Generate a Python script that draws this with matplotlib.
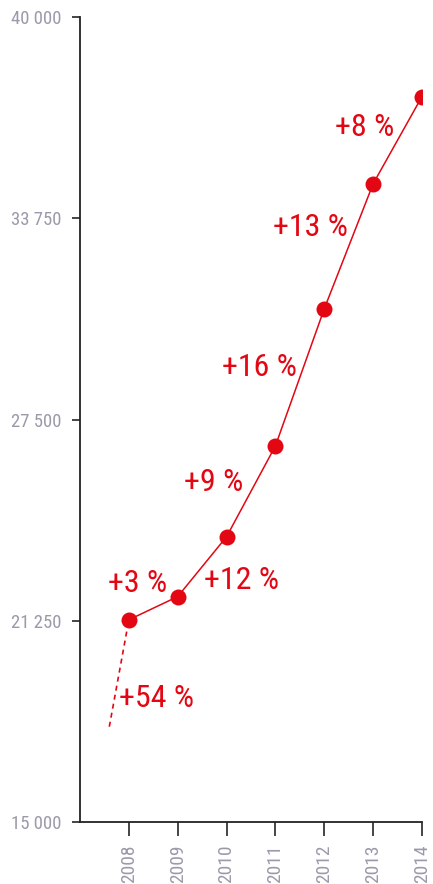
import matplotlib
matplotlib.use("Agg")
import matplotlib.pyplot as plt
from matplotlib import font_manager

# data
years = [2008, 2009, 2010, 2011, 2012, 2013, 2014]
values = [21280, 22000, 23860, 26680, 30940, 34820, 37530]
start_year = 2007.6
start_value = 17960
growth_labels = ["+54 %", "+3 %", "+9 %", "+12 %", "+16 %", "+13 %", "+8 %"]
y_ticks = [15000, 21250, 27500, 33750, 40000]

# label positions (data coords)
label_pos = [(2008.57, 18850), (2008.17, 22420), (2009.73, 25530),
             (2010.31, 22490), (2010.68, 29100), (2011.72, 33450),
             (2012.82, 36560)]

names = set(f.name for f in font_manager.fontManager.ttflist)
font = "DejaVu Sans"
for cand in ["Roboto Condensed", "Liberation Sans Narrow", "Open Sans Condensed", "Noto Sans"]:
    if cand in names:
        font = cand
        break

red = "#e30613"
grey = "#9a9aab"

fig = plt.figure(figsize=(4.33, 8.84), dpi=100)
ax = fig.add_axes([80 / 433, 62 / 884, 342 / 433, 805 / 884])

ax.plot([start_year, years[0]], [start_value, values[0]], color=red, lw=1.2,
        ls=(0, (3, 2.5)))
ax.plot(years, values, color=red, lw=1.1, marker="o", ms=11.5,
        markeredgewidth=0)

for txt, (x, y) in zip(growth_labels, label_pos):
    ax.text(x, y, txt, color=red, fontsize=23, family=font,
            ha="center", va="center")

ax.set_xlim(2007, 2014)
ax.set_ylim(15000, 40000)
ax.set_xticks(years)
ax.set_xticklabels([str(y) for y in years], rotation=90, color=grey,
                   fontsize=14, family=font)
ax.set_yticks(y_ticks)
ax.set_yticklabels([f"{v:,}".replace(",", " ") for v in y_ticks], color=grey,
                   fontsize=13.5, family=font)

for s in ["top", "right"]:
    ax.spines[s].set_visible(False)
for s in ["left", "bottom"]:
    ax.spines[s].set_color("#222222")
    ax.spines[s].set_linewidth(1.3)
ax.tick_params(axis="x", length=10, width=1.4, color="#444444", pad=6)
ax.tick_params(axis="y", length=6, width=1.4, color="#444444", pad=7)

fig.savefig("out.png", dpi=100)
